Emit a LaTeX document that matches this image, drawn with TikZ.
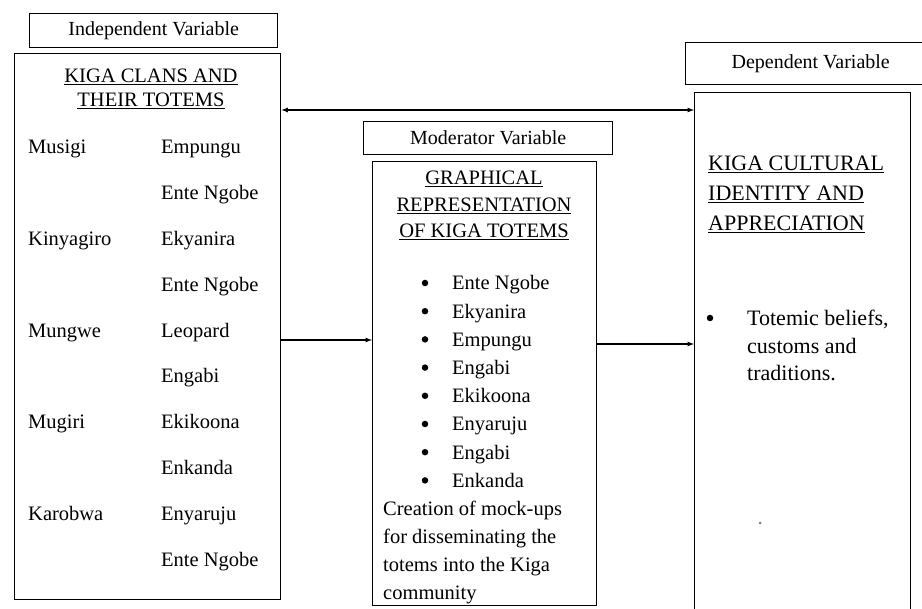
\documentclass[tikz,border=0pt]{standalone}
\usepackage{fontspec}
\setmainfont{Liberation Serif}
\newfontfamily\timesfont{Liberation Serif}
\usetikzlibrary{arrows}
\begin{document}
\begin{tikzpicture}
[
    x=1pt, y=-1pt,
    box/.style={draw, line width=1.4pt, inner sep=0pt, anchor=north west},
    tag/.style={box, font=\timesfont\fontsize{20}{24}\selectfont},
    txt/.style={anchor=base west, inner sep=0pt, font=\timesfont\fontsize{20.5}{24}\selectfont},
    head/.style={anchor=base, inner sep=0pt, font=\timesfont\fontsize{20.5}{24}\selectfont},
    big/.style={anchor=base west, inner sep=0pt, font=\timesfont\fontsize{22}{26}\selectfont},
    dot/.style={circle, fill, inner sep=0pt, minimum size=6.5pt},
    arr/.style={-latex, line width=1.2pt},
]
\useasboundingbox (0,0) rectangle (922,609);
\node[tag, minimum width=248pt, minimum height=34pt] (indep) at (29,13) {Independent Variable};
\node[box, minimum width=266pt, minimum height=546pt] (clans) at (14,53) {};
\node[head] (clanhead1) at (151,83) {\underline{KIGA CLANS AND}};
\node[head] (clanhead2) at (151,107) {\underline{THEIR TOTEMS}};
\foreach \name [count=\i from 0] in {Musigi,Kinyagiro,Mungwe,Mugiri,Karobwa}
    \node[txt] (clan\i) at (28,{154+91.6*\i}) {\name};
\foreach \name [count=\i from 0] in {Empungu,Ente Ngobe,Ekyanira,Ente Ngobe,Leopard,Engabi,Ekikoona,Enkanda,Enyaruju,Ente Ngobe}
    \node[txt] (totem\i) at (161,{154+45.8*\i}) {\name};
\node[tag, minimum width=249pt, minimum height=33pt] (moder) at (363,121) {Moderator Variable};
\node[box, minimum width=224pt, minimum height=444pt] (graph) at (372,161) {};
\node[head] (graphhead1) at (484,185) {\underline{GRAPHICAL}};
\node[head] (graphhead2) at (484,212) {\underline{REPRESENTATION}};
\node[head] (graphhead3) at (484,238) {\underline{OF KIGA TOTEMS}};
\foreach \name [count=\i from 0] in {Ente Ngobe,Ekyanira,Empungu,Engabi,Ekikoona,Enyaruju,Engabi,Enkanda}
{
    \node[dot] (bullet\i) at (425,{283+28.2*\i}) {};
    \node[txt] (item\i) at (452,{290+28.2*\i}) {\name};
}
\foreach \line [count=\i from 0] in {Creation of mock-ups,for disseminating the,totems into the Kiga,community}
    \node[txt] (mockup\i) at (383,{516+27.7*\i}) {\line};
\node[tag, minimum width=250pt, minimum height=42pt] (dep) at (685,42) {Dependent Variable};
\node[box, minimum width=216pt, minimum height=528pt] (identity) at (694,92) {};
\node[big] (idhead1) at (708,171) {\underline{KIGA CULTURAL}};
\node[big] (idhead2) at (708,201) {\underline{IDENTITY AND}};
\node[big] (idhead3) at (708,231) {\underline{APPRECIATION}};
\node[dot] (belief) at (710,318) {};
\foreach \line [count=\i from 0] in {{Totemic beliefs,},customs and,traditions.}
    \node[big] (beliefs\i) at (747,{326+27.5*\i}) {\line};
\node[dot, minimum size=3pt, fill=gray] (speck) at (760,523) {};
\draw[arr, latex-latex] ([yshift=-57pt]clans.north east) -- ([yshift=-57pt]clans.north east -| identity.west);
\draw[arr] ([yshift=-179pt]graph.north west -| clans.east) -- ([yshift=-179pt]graph.north west);
\draw[arr] ([yshift=-183pt]graph.north east) -- ([yshift=-183pt]graph.north east -| identity.west);
\end{tikzpicture}
\end{document}
